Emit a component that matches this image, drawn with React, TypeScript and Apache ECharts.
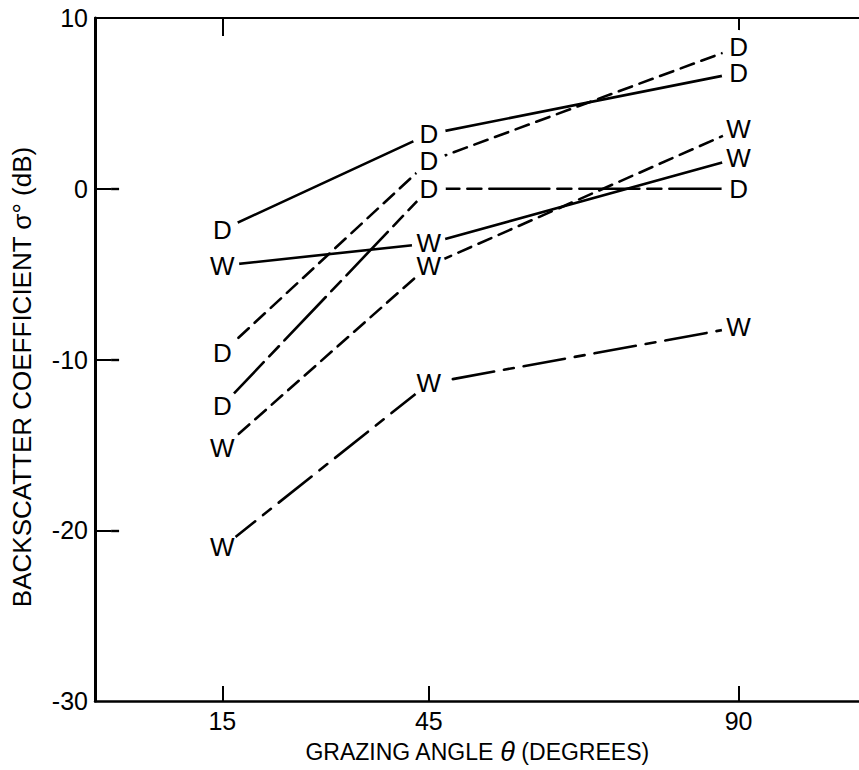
import React, { useEffect, useRef } from "react";
import * as echarts from "echarts";

// Grazing angles (degrees) at which the backscatter was measured
const angles = [15, 45, 90];
const angleTicks = [15, 45, 90];
const topAngleTicks = [15, 90];
const dbTicks = [0, -10, -20];

// Backscatter coefficient (dB) per curve, one value per angle
const dryUpper = [-2.4, 3.2, 6.8];
const dryDashed = [-9.6, 1.6, 8.3];
const dryLong = [-12.7, 0, 0];
const wetSolid = [-4.5, -3.2, 1.8];
const wetDashed = [-15.2, -4.5, 3.5];
const wetDashDot = [-21.0, -11.4, -8.1];

const FONT = "'Liberation Sans', Arial, sans-serif";

type Curve = { letter: string; values: number[]; dash: "solid" | number[] };

const curves: Curve[] = [
  { letter: "D", values: dryUpper, dash: "solid" },
  { letter: "D", values: dryDashed, dash: [14, 8] },
  { letter: "D", values: dryLong, dash: [60, 8, 14, 8] },
  { letter: "W", values: wetSolid, dash: "solid" },
  { letter: "W", values: wetDashed, dash: [14, 8] },
  { letter: "W", values: wetDashDot, dash: [42, 10, 10, 10] },
];

export default function App() {
  const ref = useRef<HTMLDivElement>(null);

  useEffect(() => {
    if (!ref.current) return;
    const chart = echarts.init(ref.current, undefined, { renderer: "svg" });

    const lineSeries = curves.map((c, i) => ({
      name: `curve${i}`,
      type: "line" as const,
      data: angles.map((a, k) => [a, c.values[k]]),
      symbol: "none",
      z: 2,
      lineStyle: { color: "#000", width: 2.6, type: c.dash, cap: "round" },
      silent: true,
    }));

    const letterPoints = curves.flatMap((c) =>
      angles.map((a, k) => ({ name: c.letter, value: [a, c.values[k]] }))
    );

    chart.setOption({
      animation: false,
      backgroundColor: "#fff",
      grid: { left: 95, top: 18, width: 765, height: 690, containLabel: false },
      xAxis: [
        {
          type: "value",
          position: "bottom",
          min: -3.5,
          max: 107.5,
          axisLine: { show: true, onZero: false, lineStyle: { color: "#000", width: 2.5 } },
          axisTick: {
            show: true,
            inside: true,
            length: 15,
            customValues: angleTicks,
            lineStyle: { color: "#000", width: 2 },
          },
          axisLabel: {
            show: true,
            customValues: angleTicks,
            margin: 7,
            color: "#000",
            fontSize: 25,
            fontFamily: FONT,
          },
          splitLine: { show: false },
          name: "GRAZING ANGLE {t|θ} (DEGREES)",
          nameLocation: "middle",
          nameGap: 35,
          nameTextStyle: {
            color: "#000",
            fontSize: 23,
            fontFamily: FONT,
            rich: {
              t: { fontSize: 27, fontStyle: "italic", fontFamily: FONT, color: "#000" },
            },
          },
        },
        {
          type: "value",
          position: "top",
          min: -3.5,
          max: 107.5,
          axisLine: { show: true, onZero: false, lineStyle: { color: "#000", width: 2.2 } },
          axisTick: {
            show: true,
            inside: true,
            length: 18,
            customValues: topAngleTicks,
            lineStyle: { color: "#000", width: 2 },
          },
          axisLabel: { show: false },
          splitLine: { show: false },
        },
      ],
      yAxis: [
        {
          type: "value",
          position: "left",
          min: -30,
          max: 10,
          interval: 10,
          axisLine: { show: true, onZero: false, lineStyle: { color: "#000", width: 3 } },
          axisTick: {
            show: true,
            inside: true,
            length: 16,
            customValues: dbTicks,
            lineStyle: { color: "#000", width: 2 },
          },
          axisLabel: { color: "#000", fontSize: 25, fontFamily: FONT, margin: 7 },
          splitLine: { show: false },
        },
        {
          type: "value",
          position: "right",
          min: -30,
          max: 10,
          interval: 10,
          axisLine: { show: false },
          axisTick: {
            show: true,
            inside: true,
            length: 8,
            customValues: dbTicks,
            lineStyle: { color: "#000", width: 2.4 },
          },
          axisLabel: { show: false },
          splitLine: { show: false },
        },
      ],
      graphic: [
        {
          type: "text",
          x: 22,
          y: 377,
          rotation: Math.PI / 2,
          style: {
            text: "BACKSCATTER COEFFICIENT σ° (dB)",
            font: `26px ${FONT}`,
            fill: "#000",
            align: "center",
            verticalAlign: "middle",
          },
        },
      ],
      series: [
        ...lineSeries,
        {
          name: "letters",
          type: "scatter",
          data: letterPoints,
          symbol: "circle",
          symbolSize: 34,
          z: 5,
          silent: true,
          itemStyle: { color: "#fff", borderWidth: 0, opacity: 1 },
          label: {
            show: true,
            position: "inside",
            formatter: "{b}",
            color: "#000",
            opacity: 1,
            textBorderWidth: 0,
            fontSize: 26,
            lineHeight: 20,
            fontFamily: FONT,
          },
        },
      ],
    });

    return () => chart.dispose();
  }, []);

  return (
    <div
      ref={ref}
      style={{ position: "fixed", left: 0, top: 0, width: 859, height: 770 }}
    />
  );
}
